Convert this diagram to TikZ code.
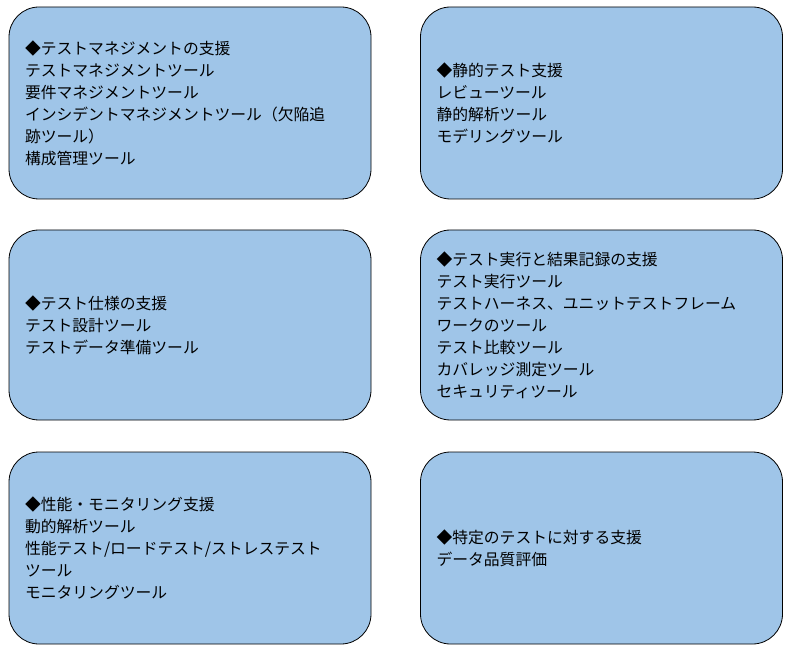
\documentclass[tikz,border=0pt]{standalone}
\usepackage{fontspec}
\setmainfont{Noto Sans CJK JP}
\usetikzlibrary{positioning}
\definecolor{boxblue}{RGB}{159,197,232}
\tikzset{toolbox/.style={draw=black,line width=0.8pt,fill=boxblue,rounded corners=30pt,
  minimum width=360pt,minimum height=192pt,text width=330pt,align=left,
  inner xsep=16pt,font=\fontsize{15.8pt}{22pt}\selectfont}}
\begin{document}
\begin{tikzpicture}[x=1pt,y=-1pt]
\useasboundingbox (0,0) rectangle (790,652);
% left column
\node[toolbox] (mgmt) at (190,103) {◆テストマネジメントの支援\\テストマネジメントツール\\要件マネジメントツール\\インシデントマネジメントツール（欠陥追\\跡ツール）\\構成管理ツール};
\node[toolbox,minimum height=190pt] (spec) at (190,325) {◆テスト仕様の支援\\テスト設計ツール\\テストデータ準備ツール};
\node[toolbox] (perf) at (190,548) {◆性能・モニタリング支援\\動的解析ツール\\性能テスト/ロードテスト/ストレステスト\\ツール\\モニタリングツール};
% right column
\node[toolbox,minimum width=361pt] (static) at (601.5,103) {◆静的テスト支援\\レビューツール\\静的解析ツール\\モデリングツール};
\node[toolbox,minimum width=361pt,minimum height=190pt] (exec) at (601.5,325) {◆テスト実行と結果記録の支援\\テスト実行ツール\\テストハーネス、ユニットテストフレーム\\ワークのツール\\テスト比較ツール\\カバレッジ測定ツール\\セキュリティツール};
\node[toolbox,minimum width=361pt] (special) at (601.5,548) {◆特定のテストに対する支援\\データ品質評価};
\end{tikzpicture}
\end{document}
